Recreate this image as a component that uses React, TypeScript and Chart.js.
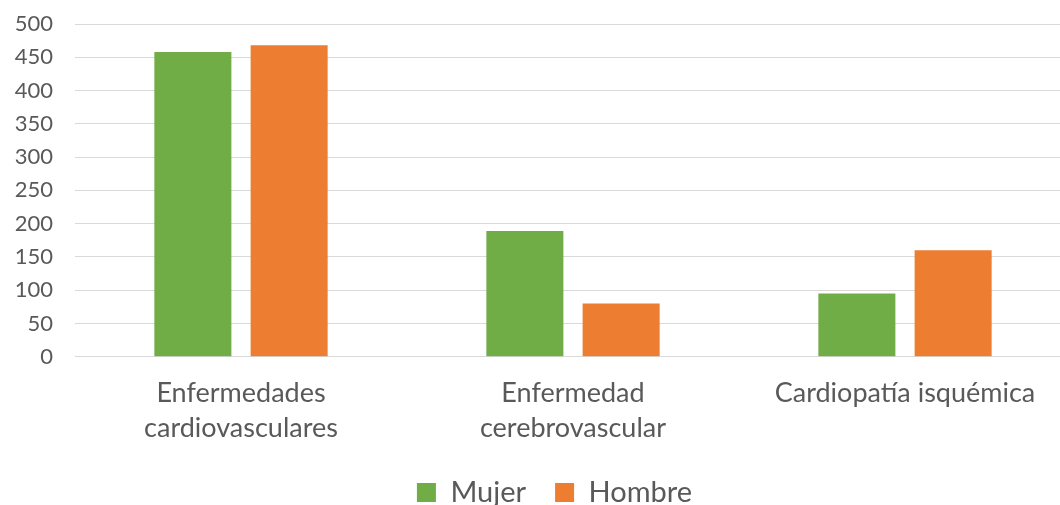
import React, { useEffect, useRef } from "react";
import { Chart, registerables } from "chart.js";

Chart.register(...registerables);

const categories: string[][] = [
  ["Enfermedades", "cardiovasculares"],
  ["Enfermedad", "cerebrovascular"],
  ["Cardiopatía isquémica"],
];
const mujer: number[] = [458, 189, 95];
const hombre: number[] = [468, 80, 160];
const seriesNames: string[] = ["Mujer", "Hombre"];

const FONT = "Lato, 'Noto Sans', sans-serif";
const TEXT = "#595959";

const shiftLegend = {
  id: "shiftLegend",
  afterLayout(chart: any) {
    const l = chart.legend;
    if (l) {
      l.left += 19;
      l.right += 19;
      l.top -= 16;
      l.bottom -= 16;
    }
  },
};

export default function App() {
  const ref = useRef<HTMLCanvasElement | null>(null);
  useEffect(() => {
    if (!ref.current) return;
    const chart = new Chart(ref.current, {
      type: "bar",
      data: {
        labels: categories,
        datasets: [
          {
            label: seriesNames[0],
            data: mujer,
            backgroundColor: "#70AD47",
            barPercentage: 0.8,
            categoryPercentage: 0.58,
          },
          {
            label: seriesNames[1],
            data: hombre,
            backgroundColor: "#ED7D31",
            barPercentage: 0.8,
            categoryPercentage: 0.58,
          },
        ],
      },
      plugins: [shiftLegend],
      options: {
        responsive: false,
        animation: false,
        layout: { padding: { left: 0, right: 4, top: 24, bottom: 0 } },
        plugins: {
          legend: {
            position: "bottom",
            labels: {
              boxWidth: 19,
              boxHeight: 19,
              padding: 29,
              color: TEXT,
              font: { family: FONT, size: 29 },
            },
          },
          tooltip: { enabled: false },
        },
        scales: {
          x: {
            grid: { display: false, drawTicks: false },
            border: { display: false },
            ticks: {
              color: TEXT,
              font: { family: FONT, size: 27, lineHeight: 1.3 },
              padding: 19,
              maxRotation: 0,
              autoSkip: false,
            },
          },
          y: {
            min: 0,
            max: 500,
            afterFit: (s: any) => {
              s.width = 75;
              s.paddingTop = 0;
              s.paddingBottom = 0;
            },
            grid: { color: "#D9D9D9", lineWidth: 1, drawTicks: false },
            border: { display: false },
            ticks: {
              stepSize: 50,
              autoSkip: false,
              color: TEXT,
              font: { family: FONT, size: 22 },
              padding: 22,
            },
          },
        },
      },
    });
    return () => chart.destroy();
  }, []);
  return (
    <div
      style={{
        position: "fixed",
        left: 0,
        top: 0,
        width: 1060,
        height: 505,
        overflow: "hidden",
        background: "#fff",
      }}
    >
      <canvas
        ref={ref}
        width={1075}
        height={533}
        style={{ width: 1075, height: 533, display: "block" }}
      />
    </div>
  );
}
